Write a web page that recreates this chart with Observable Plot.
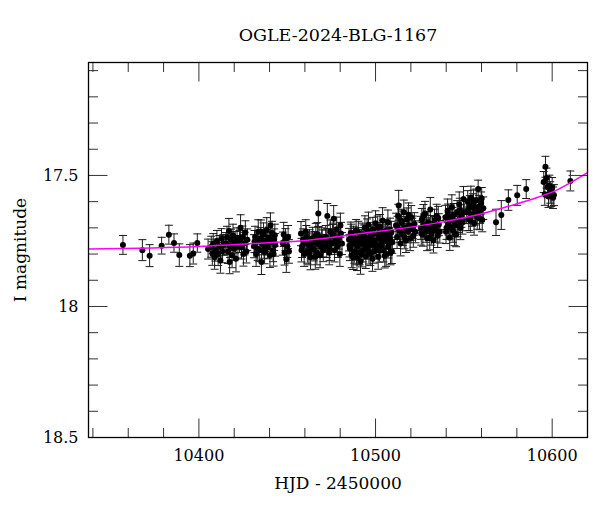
<!DOCTYPE html>
<html><head><meta charset="utf-8">
<script src="https://cdn.jsdelivr.net/npm/d3@7"></script>
<script src="https://cdn.jsdelivr.net/npm/@observablehq/plot@0.6"></script>
<style>html,body{margin:0;padding:0;background:#fff}</style>
</head><body><div id="chart"></div>
<script>
const title = "OGLE-2024-BLG-1167";
const xLabel = "HJD - 2450000";
const yLabel = "I magnitude";

const hjd = [
  10357.0, 10368.0, 10372.1, 10378.9, 10383.0, 10385.9, 10388.9, 10394.9, 10396.8, 10399.1, 10405.2,
  10407.0, 10407.6, 10408.1, 10408.9, 10409.5, 10410.2, 10410.9, 10411.5, 10412.2, 10412.8, 10413.3, 10413.9,
  10415.3, 10415.9, 10416.5, 10417.0, 10417.4, 10417.6, 10418.2, 10418.8, 10419.3, 10419.9, 10420.5, 10421.0, 10421.6, 10422.1,
  10423.0, 10423.6, 10424.1, 10424.7, 10425.2, 10425.8, 10426.3, 10426.9, 10427.4,
  10431.2, 10431.8, 10432.4, 10433.0, 10433.6, 10434.2, 10434.8, 10435.4, 10436.0, 10436.6, 10437.2, 10437.8, 10438.4, 10439.0, 10439.6, 10440.2, 10440.8, 10441.4, 10442.0, 10442.6, 10443.2,
  10447.5, 10448.0, 10448.5, 10449.0, 10449.5, 10450.0, 10450.5, 10451.0,
  10457.8, 10458.4, 10459.0, 10459.6, 10460.2, 10460.8, 10461.4, 10462.0, 10462.6, 10463.2, 10463.8, 10464.4, 10465.0, 10465.6, 10466.2, 10466.8, 10467.4, 10467.6, 10468.0, 10468.6, 10469.2, 10469.8, 10470.4,
  10471.8, 10472.4, 10472.7, 10473.2, 10473.8, 10474.4, 10475.0, 10475.6, 10476.3, 10476.8, 10477.4, 10478.0, 10478.6, 10479.2, 10479.8, 10480.4, 10481.0,
  10485.0, 10485.5, 10486.0, 10486.5, 10487.0, 10487.5, 10488.0, 10488.5, 10489.0, 10489.5,
  10490.0, 10490.5, 10491.0, 10491.5, 10492.0, 10492.5, 10493.0, 10493.5, 10494.0, 10494.5,
  10495.0, 10495.5, 10496.0, 10496.5, 10497.0, 10497.5, 10498.0, 10498.5, 10499.0, 10499.5,
  10500.0, 10500.5, 10501.0, 10501.5, 10502.0, 10502.5, 10503.0, 10503.5, 10504.0, 10504.5,
  10505.0, 10505.5, 10506.0, 10506.5, 10507.0, 10507.5, 10508.0, 10508.5, 10509.0, 10509.5,
  10511.6, 10512.2, 10512.8, 10513.1, 10513.6, 10514.2, 10514.8, 10515.4, 10516.0, 10516.6, 10517.2, 10517.8, 10518.4, 10519.0, 10519.6, 10520.2, 10520.8, 10521.4, 10522.0, 10522.6,
  10525.6, 10526.2, 10526.8, 10527.4, 10528.0, 10528.6, 10529.2, 10529.8, 10530.4, 10531.0, 10531.6, 10532.2, 10532.8, 10533.4, 10534.0, 10534.6, 10535.2, 10535.8, 10536.4,
  10539.6, 10540.2, 10540.8, 10541.4, 10542.0, 10542.6, 10543.2, 10543.8, 10544.4, 10545.0, 10545.6, 10546.2, 10546.8, 10547.4, 10548.0, 10548.6, 10549.2, 10549.8, 10550.2,
  10551.6, 10552.2, 10552.8, 10553.4, 10554.0, 10554.6, 10555.2, 10555.8, 10556.4, 10557.0, 10557.6, 10558.1, 10558.6, 10559.2, 10559.8, 10560.4, 10561.0,
  10568.2, 10571.2, 10575.2, 10580.2, 10585.3,
  10595.2, 10595.8, 10596.2, 10596.8, 10597.4, 10597.9, 10598.4, 10598.9, 10599.5, 10600.0, 10600.5, 10601.0,
  10610.3,
  10485.25, 10486.25, 10487.25, 10488.25, 10489.25, 10490.25, 10491.25, 10492.25, 10493.25, 10494.25, 10495.25, 10496.25, 10497.25,
  10498.25, 10499.25, 10500.25, 10501.25, 10502.25, 10503.25, 10504.25, 10505.25, 10506.25, 10507.25, 10508.25, 10509.25,
  10458.1, 10460.5, 10462.3, 10464.1, 10465.9, 10467.1, 10469.5, 10470.1,
  10539.9, 10541.1, 10542.3, 10543.5, 10544.7, 10546.5, 10547.7, 10549.5,
  10552.5, 10553.7, 10555.5, 10556.7, 10558.9, 10560.1,
  10525.9, 10527.1, 10528.9, 10530.7, 10533.1, 10535.5,
  10512.5, 10514.5, 10516.3, 10518.7, 10521.1,
  10431.5, 10433.3, 10435.1, 10436.9, 10438.7, 10440.5, 10442.3, 10443.0,
  10472.1, 10474.1, 10476.0, 10478.3, 10480.1
];
const mag = [
  17.765, 17.785, 17.806, 17.768, 17.726, 17.758, 17.804, 17.806, 17.798, 17.758, 17.781,
  17.772, 17.798, 17.760, 17.812, 17.785, 17.750, 17.800, 17.770, 17.825, 17.742, 17.790, 17.765,
  17.760, 17.735, 17.790, 17.712, 17.830, 17.770, 17.745, 17.805, 17.728, 17.780, 17.755, 17.818, 17.740, 17.772,
  17.752, 17.700, 17.775, 17.735, 17.800, 17.760, 17.718, 17.790, 17.745,
  17.770, 17.735, 17.800, 17.752, 17.715, 17.785, 17.740, 17.830, 17.760, 17.725, 17.792, 17.748, 17.708, 17.775, 17.738, 17.805, 17.755, 17.720, 17.785, 17.745, 17.765,
  17.760, 17.725, 17.795, 17.745, 17.820, 17.770, 17.735, 17.790,
  17.722, 17.770, 17.745, 17.800, 17.758, 17.735, 17.790, 17.765, 17.748, 17.812, 17.775, 17.740, 17.782, 17.755, 17.728, 17.795, 17.762, 17.645, 17.738, 17.805, 17.770, 17.750, 17.785,
  17.735, 17.770, 17.655, 17.745, 17.795, 17.715, 17.760, 17.728, 17.665, 17.785, 17.750, 17.705, 17.770, 17.740, 17.800, 17.722, 17.760,
  17.745, 17.780, 17.720, 17.805, 17.760, 17.735, 17.790, 17.752, 17.712, 17.815,
  17.770, 17.740, 17.795, 17.828, 17.748, 17.725, 17.785, 17.760, 17.700, 17.808,
  17.742, 17.772, 17.688, 17.755, 17.798, 17.730, 17.765, 17.705, 17.790, 17.748,
  17.682, 17.775, 17.722, 17.810, 17.740, 17.695, 17.768, 17.735, 17.672, 17.785,
  17.750, 17.712, 17.800, 17.728, 17.680, 17.762, 17.740, 17.795, 17.718, 17.755,
  17.690, 17.735, 17.655, 17.615, 17.712, 17.760, 17.680, 17.725, 17.640, 17.700, 17.748, 17.668, 17.715, 17.690, 17.742, 17.660, 17.705, 17.730, 17.685, 17.715,
  17.700, 17.668, 17.725, 17.690, 17.645, 17.712, 17.740, 17.680, 17.705, 17.630, 17.722, 17.695, 17.748, 17.672, 17.710, 17.655, 17.730, 17.688, 17.715,
  17.660, 17.700, 17.635, 17.685, 17.738, 17.670, 17.620, 17.710, 17.650, 17.690, 17.725, 17.640, 17.675, 17.610, 17.700, 17.655, 17.680, 17.590, 17.640,
  17.640, 17.600, 17.665, 17.620, 17.585, 17.650, 17.612, 17.682, 17.630, 17.595, 17.660, 17.552, 17.618, 17.640, 17.605, 17.670, 17.625,
  17.679, 17.651, 17.594, 17.576, 17.552,
  17.525, 17.572, 17.467, 17.510, 17.545, 17.580, 17.538, 17.565, 17.578, 17.548, 17.585, 17.575,
  17.521,
  17.768, 17.728, 17.812, 17.742, 17.795, 17.718, 17.758, 17.802, 17.730, 17.776, 17.710, 17.792, 17.745,
  17.818, 17.722, 17.762, 17.700, 17.786, 17.752, 17.715, 17.806, 17.738, 17.772, 17.708, 17.790,
  17.785, 17.715, 17.795, 17.758, 17.810, 17.725, 17.742, 17.768,
  17.715, 17.652, 17.698, 17.665, 17.722, 17.690, 17.632, 17.668,
  17.632, 17.672, 17.598, 17.645, 17.662, 17.588,
  17.722, 17.655, 17.695, 17.738, 17.700, 17.662,
  17.700, 17.672, 17.735, 17.650, 17.698,
  17.752, 17.780, 17.715, 17.772, 17.760, 17.690, 17.800, 17.728,
  17.750, 17.780, 17.725, 17.758, 17.690
];
const err = [
  0.036, 0.040, 0.042, 0.032, 0.036, 0.035, 0.043, 0.042, 0.040, 0.035, 0.038,
  0.040, 0.045, 0.038, 0.046, 0.042, 0.040, 0.044, 0.041, 0.048, 0.039, 0.043, 0.040,
  0.042, 0.041, 0.046, 0.048, 0.045, 0.043, 0.040, 0.047, 0.042, 0.044, 0.041, 0.050, 0.040, 0.043,
  0.042, 0.050, 0.044, 0.042, 0.046, 0.043, 0.045, 0.044, 0.041,
  0.044, 0.041, 0.047, 0.042, 0.046, 0.044, 0.041, 0.048, 0.043, 0.044, 0.045, 0.042, 0.047, 0.043, 0.041, 0.046, 0.042, 0.045, 0.044, 0.041, 0.043,
  0.044, 0.046, 0.047, 0.042, 0.050, 0.043, 0.044, 0.045,
  0.046, 0.043, 0.041, 0.047, 0.042, 0.044, 0.045, 0.042, 0.041, 0.048, 0.043, 0.042, 0.044, 0.041, 0.045, 0.046, 0.042, 0.050, 0.041, 0.047, 0.043, 0.042, 0.044,
  0.044, 0.043, 0.048, 0.042, 0.046, 0.045, 0.042, 0.041, 0.050, 0.045, 0.042, 0.046, 0.043, 0.041, 0.047, 0.043, 0.042,
  0.043, 0.045, 0.042, 0.047, 0.043, 0.041, 0.045, 0.042, 0.044, 0.048,
  0.043, 0.041, 0.046, 0.049, 0.042, 0.043, 0.045, 0.042, 0.046, 0.047,
  0.041, 0.043, 0.048, 0.042, 0.046, 0.041, 0.043, 0.045, 0.045, 0.042,
  0.047, 0.044, 0.042, 0.048, 0.041, 0.046, 0.043, 0.042, 0.049, 0.045,
  0.042, 0.044, 0.047, 0.042, 0.048, 0.043, 0.042, 0.046, 0.043, 0.042,
  0.046, 0.044, 0.045, 0.058, 0.043, 0.047, 0.044, 0.042, 0.046, 0.043, 0.046, 0.044, 0.042, 0.043, 0.045, 0.045, 0.042, 0.044, 0.043, 0.042,
  0.044, 0.042, 0.045, 0.043, 0.046, 0.043, 0.047, 0.042, 0.043, 0.046, 0.044, 0.042, 0.048, 0.043, 0.044, 0.045, 0.045, 0.042, 0.043,
  0.046, 0.044, 0.045, 0.043, 0.048, 0.044, 0.046, 0.045, 0.043, 0.044, 0.047, 0.044, 0.043, 0.047, 0.045, 0.043, 0.044, 0.048, 0.043,
  0.044, 0.042, 0.045, 0.043, 0.044, 0.044, 0.042, 0.046, 0.043, 0.043, 0.045, 0.034, 0.042, 0.043, 0.042, 0.045, 0.043,
  0.050, 0.055, 0.039, 0.038, 0.036,
  0.040, 0.042, 0.040, 0.038, 0.040, 0.042, 0.039, 0.041, 0.040, 0.040, 0.041, 0.040,
  0.038,
  0.043, 0.042, 0.047, 0.041, 0.046, 0.043, 0.042, 0.047, 0.041, 0.044, 0.044, 0.046, 0.042,
  0.048, 0.043, 0.042, 0.045, 0.045, 0.042, 0.044, 0.047, 0.041, 0.043, 0.045, 0.046,
  0.045, 0.046, 0.046, 0.042, 0.048, 0.045, 0.042, 0.043,
  0.045, 0.043, 0.044, 0.043, 0.046, 0.044, 0.045, 0.043,
  0.043, 0.045, 0.042, 0.044, 0.045, 0.042,
  0.044, 0.044, 0.043, 0.046, 0.043, 0.044,
  0.044, 0.043, 0.045, 0.045, 0.043,
  0.042, 0.044, 0.045, 0.044, 0.043, 0.047, 0.046, 0.042,
  0.042, 0.045, 0.043, 0.043, 0.046
];

const modelHjd = [10337.5, 10400, 10441, 10459, 10478, 10497, 10516, 10535, 10554, 10573, 10591.5, 10601, 10610.5, 10620];
const modelMag = [17.781, 17.771, 17.756, 17.749, 17.734, 17.717, 17.701, 17.681, 17.656, 17.622, 17.584, 17.561, 17.527, 17.489];

const xMajorTicks = [10400, 10500, 10600];
const xMinorTicks = [10340, 10360, 10380, 10420, 10440, 10460, 10480, 10520, 10540, 10560, 10580, 10620];
const yMajorTicks = [17.5, 18, 18.5];
const yMinorTicks = [17.1, 17.2, 17.3, 17.4, 17.6, 17.7, 17.8, 17.9, 18.1, 18.2, 18.3, 18.4];
const xDomain = [10337.5, 10620];
const yDomain = [17.069, 18.5];

const n = Math.min(hjd.length, mag.length, err.length);
const points = hjd.slice(0, n).map((t, i) => ({t, m: mag[i], e: err[i]}));
const model = modelHjd.map((t, i) => ({t, m: modelMag[i]}));

function seg(x1, y1, x2, y2) {
  return {draw(ctx) { ctx.moveTo(x1, y1); ctx.lineTo(x2, y2); }};
}
const FONT = "'DejaVu Serif', 'Liberation Serif', serif";
const MAJ = 19, MIN = 9.5;
const tickStyle = {stroke: "#333", strokeWidth: 1, fill: "none"};
function edgeTicks(vals, len, axis) {
  if (axis === "x") return [
    Plot.dot(vals, {x: d => d, y: () => yDomain[1], symbol: seg(0, 0, 0, -len), ...tickStyle}),
    Plot.dot(vals, {x: d => d, y: () => yDomain[0], symbol: seg(0, 0, 0, len), ...tickStyle})
  ];
  return [
    Plot.dot(vals, {y: d => d, x: () => xDomain[0], symbol: seg(0, 0, len, 0), ...tickStyle}),
    Plot.dot(vals, {y: d => d, x: () => xDomain[1], symbol: seg(0, 0, -len, 0), ...tickStyle})
  ];
}

const chart = Plot.plot({
  width: 600,
  height: 512,
  marginLeft: 88,
  marginRight: 13,
  marginTop: 62,
  marginBottom: 75,
  style: {fontFamily: FONT, background: "#fff", color: "#000"},
  x: {domain: xDomain},
  y: {domain: yDomain, reverse: true},
  marks: [
    Plot.ruleX(points, {x: "t", y1: d => d.m - d.e, y2: d => d.m + d.e, stroke: "#1a1a1a", strokeWidth: 1}),
    Plot.dot(points, {x: "t", y: d => d.m + d.e, symbol: seg(-4, 0, 4, 0), stroke: "#1a1a1a", strokeWidth: 1, fill: "none"}),
    Plot.dot(points, {x: "t", y: d => d.m - d.e, symbol: seg(-4, 0, 4, 0), stroke: "#1a1a1a", strokeWidth: 1, fill: "none"}),
    Plot.dot(points, {x: "t", y: "m", r: 3, fill: "#000", stroke: "none"}),
    Plot.line(model, {x: "t", y: "m", stroke: "#ff00ff", strokeWidth: 1.5, curve: "monotone-x"}),
    ...edgeTicks(xMajorTicks, MAJ, "x"),
    ...edgeTicks(xMinorTicks, MIN, "x"),
    ...edgeTicks(yMajorTicks, MAJ, "y"),
    ...edgeTicks(yMinorTicks, MIN, "y"),
    Plot.frame({stroke: "#000", strokeWidth: 1.3}),
    Plot.axisX({ticks: xMajorTicks, tickSize: 0, tickPadding: 12, tickFormat: d => String(d), fontSize: 16, fontFamily: FONT, label: null}),
    Plot.axisY({ticks: yMajorTicks, tickSize: 0, tickPadding: 10, tickFormat: d => String(d), fontSize: 16, fontFamily: FONT, label: null}),
    Plot.text([title], {text: d => d, frameAnchor: "top", dy: -34, textAnchor: "middle", fontSize: 17.5, fontFamily: FONT, fill: "#000"}),
    Plot.text([xLabel], {text: d => d, frameAnchor: "bottom", dy: 51, textAnchor: "middle", fontSize: 17, fontFamily: FONT, fill: "#000"}),
    Plot.text([yLabel], {text: d => d, frameAnchor: "left", dx: -68, rotate: -90, textAnchor: "middle", fontSize: 17, fontFamily: FONT, fill: "#000"})
  ]
});
document.getElementById("chart").appendChild(chart);
</script>
</body></html>
